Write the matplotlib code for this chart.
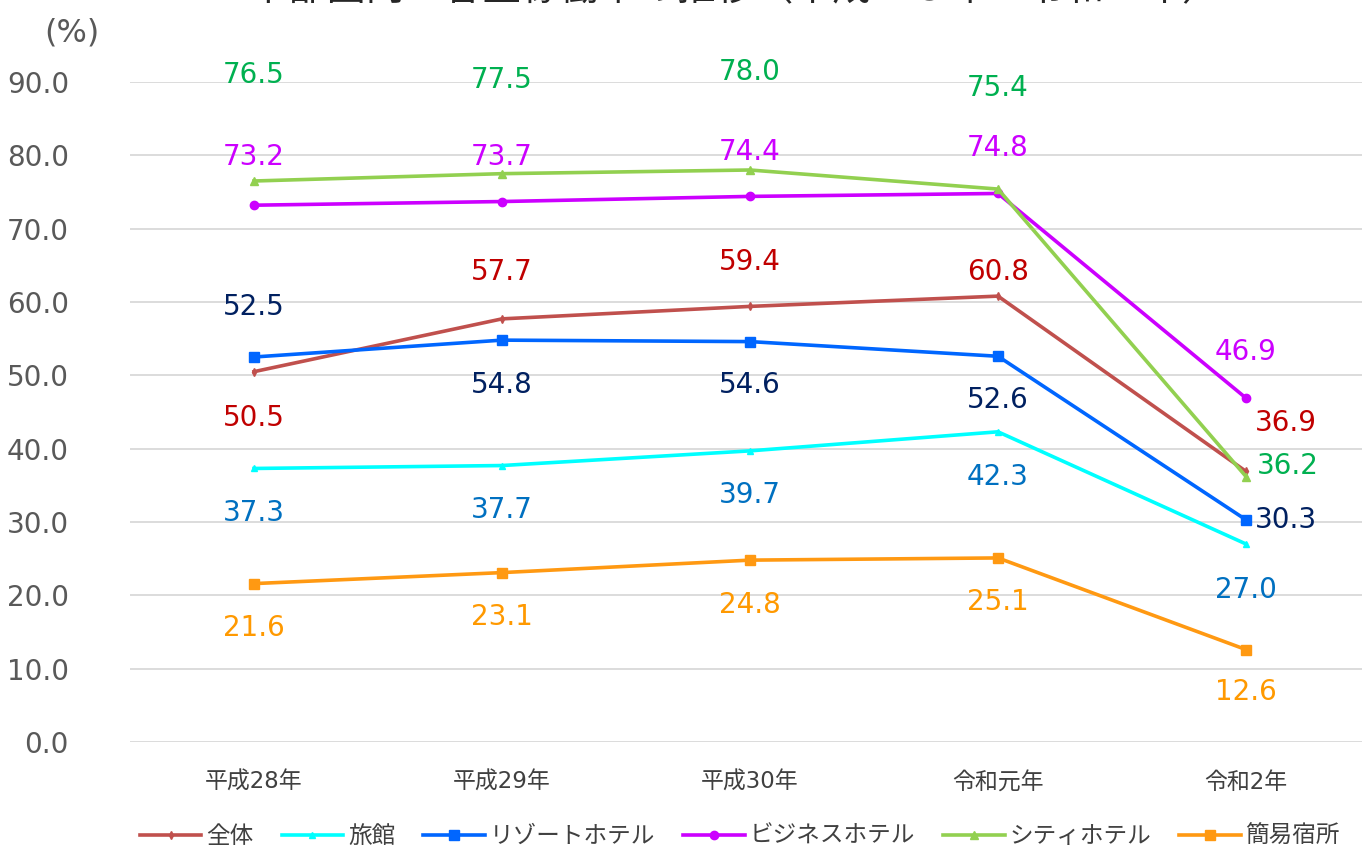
import matplotlib
matplotlib.use("Agg")
import matplotlib.pyplot as plt

plt.rcParams['font.family'] = ['DejaVu Sans', 'Noto Sans CJK JP']

years = ["平成28年", "平成29年", "平成30年", "令和元年", "令和2年"]
series_names = ["全体", "旅館", "リゾートホテル", "ビジネスホテル", "シティホテル", "簡易宿所"]

zentai = [50.5, 57.7, 59.4, 60.8, 36.9]
ryokan = [37.3, 37.7, 39.7, 42.3, 27.0]
resort = [52.5, 54.8, 54.6, 52.6, 30.3]
business = [73.2, 73.7, 74.4, 74.8, 46.9]
city = [76.5, 77.5, 78.0, 75.4, 36.2]
kani = [21.6, 23.1, 24.8, 25.1, 12.6]

yticks = [0, 10, 20, 30, 40, 50, 60, 70, 80, 90]

# style per series: line colour, marker, marker size, label colour
styles = [
    ("#C0504D", "d", 4, "#C00000"),
    ("#00FFFF", "^", 5, "#0070C0"),
    ("#0066FF", "s", 7, "#002060"),
    ("#CC00FF", "o", 6, "#CC00FF"),
    ("#92D050", "^", 6, "#00B050"),
    ("#FF9912", "s", 7, "#FF9900"),
]

# label offsets in pixels (dx, dy) for each point, dy positive = up
offsets = [
    [(0, -46), (0, 47), (0, 44), (0, 24), (40, 48)],
    [(0, -45), (0, -44), (0, -44), (0, -45), (0, -46)],
    [(0, 50), (0, -45), (0, -43), (0, -44), (40, 0)],
    [(0, 48), (0, 45), (0, 44), (0, 45), (0, 46)],
    [(0, 106), (0, 94), (0, 98), (0, 101), (42, 11)],
    [(0, -44), (0, -44), (0, -45), (0, -44), (0, -42)],
]

data = [zentai, ryokan, resort, business, city, kani]

fig = plt.figure(figsize=(13.62, 8.49), dpi=100)
ax = fig.add_axes([130 / 1362, (849 - 742) / 849, 1240 / 1362, 660 / 849])

x = list(range(len(years)))
for name, vals, st, offs in zip(series_names, data, styles, offsets):
    lc, mk, ms, tc = st
    ax.plot(x, vals, color=lc, lw=2.6, marker=mk, ms=ms, label=name, zorder=3)
    for xi, v, (dx, dy) in zip(x, vals, offs):
        ax.annotate(f"{v:.1f}", (xi, v), xytext=(dx, dy), textcoords="offset pixels",
                    ha="center", va="center", fontsize=20, color=tc,
                    annotation_clip=False)

ax.set_xlim(-0.5, 4.5)
ax.set_ylim(0, 90)
ax.set_yticks(yticks)
ax.set_yticklabels([f"{t:.1f}" for t in yticks], fontsize=20, color="#595959")
ax.set_xticks(x)
ax.set_xticklabels(years, fontsize=16.5, color="#404040")
ax.tick_params(axis="both", length=0)
ax.tick_params(axis="y", pad=44)
ax.tick_params(axis="x", pad=21)
ax.grid(axis="y", color="#D9D9D9", lw=1.3)
ax.set_axisbelow(True)
for s in ax.spines.values():
    s.set_visible(False)

fig.text(72 / 1362, 1 - 33 / 849, "(%)", fontsize=23, color="#595959", ha="center", va="center")
fig.text(735 / 1362, 1 + 11 / 849, "中部圏内　客室稼働率の推移（平成２８年～令和２年）",
         fontsize=28, color="#262626", ha="center", va="center")

fig.legend(loc="center", bbox_to_anchor=(740 / 1362, 1 - 836 / 849), ncol=6, frameon=False,
           fontsize=17, handlelength=2.6, handletextpad=0.2, columnspacing=1.2,
           labelcolor="#404040")

fig.savefig("out.png", dpi=100)
